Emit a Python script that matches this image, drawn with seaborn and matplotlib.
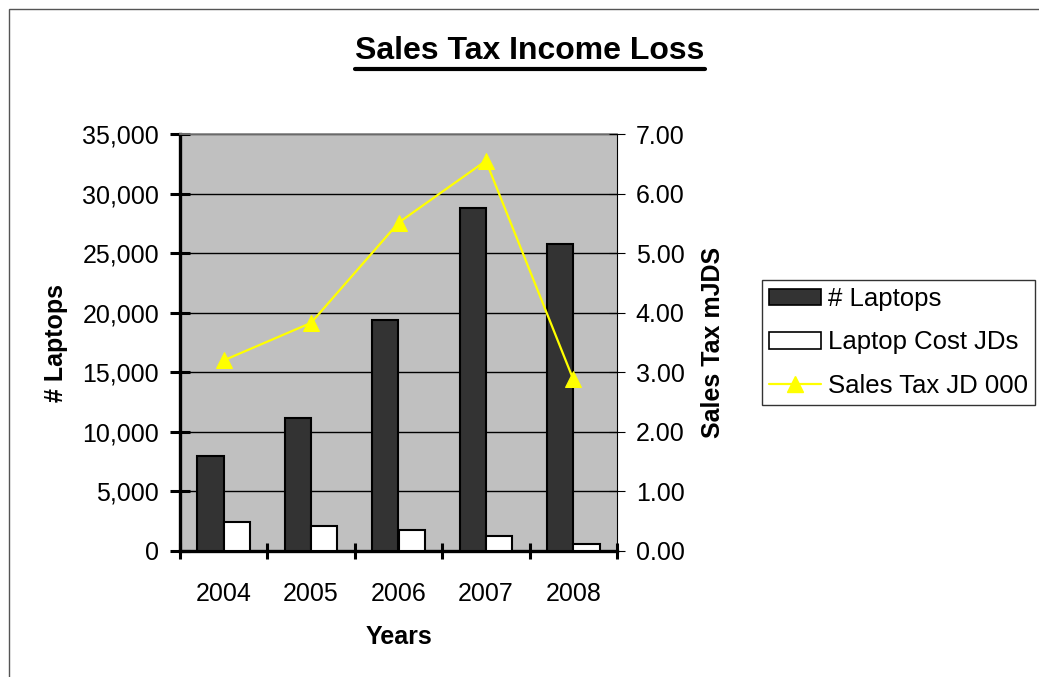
import numpy as np
import pandas as pd
import seaborn as sns
import matplotlib
matplotlib.use("Agg")
import matplotlib.pyplot as plt
from matplotlib.lines import Line2D
from matplotlib.patches import Rectangle, Patch
from matplotlib.ticker import FuncFormatter, MultipleLocator

# Data
years = ["2004", "2005", "2006", "2007", "2008"]
laptops = [8000, 11200, 19400, 28800, 25800]
laptop_cost = [2430, 2100, 1750, 1250, 600]
sales_tax = [3.20, 3.83, 5.51, 6.55, 2.88]

bar_series = ["# Laptops", "Laptop Cost JDs"]
line_series = "Sales Tax JD 000"

sns.set_theme(style="white")
plt.rcParams["font.family"] = ["Liberation Sans", "DejaVu Sans"]
plt.rcParams["text.color"] = "black"
plt.rcParams["axes.labelcolor"] = "black"
plt.rcParams["xtick.color"] = "black"
plt.rcParams["ytick.color"] = "black"

df = pd.DataFrame({
    "Year": years * 2,
    "Value": laptops + laptop_cost,
    "Series": [bar_series[0]] * len(years) + [bar_series[1]] * len(years),
})

fig = plt.figure(figsize=(10.39, 6.77), dpi=100)
fig.patch.set_facecolor("white")
ax = fig.add_axes([180 / 1039, 1 - 551 / 677, 437 / 1039, 417 / 677])
ax.set_facecolor("#C0C0C0")

sns.barplot(data=df, x="Year", y="Value", hue="Series", order=years,
            hue_order=bar_series, palette=["#333333", "#FFFFFF"],
            width=0.6, dodge=True, edgecolor="black", linewidth=1.5,
            saturation=1, errorbar=None, legend=False, ax=ax, zorder=3)

ax.set_xlim(-0.5, len(years) - 0.5)
ax.set_ylim(0, 35000)
ax.yaxis.set_major_locator(MultipleLocator(5000))
ax.yaxis.set_major_formatter(FuncFormatter(lambda v, p: f"{v:,.0f}"))
ax.grid(axis="y", color="black", linewidth=1.0, zorder=1)
ax.set_axisbelow(True)

# Category boundaries get the tick marks, labels sit in the middle
ax.set_xticks(np.arange(len(years)))
ax.set_xticklabels(years)
ax.set_xticks(np.arange(len(years) + 1) - 0.5, minor=True)
ax.tick_params(axis="x", which="major", length=0, pad=22, labelsize=18)
ax.tick_params(axis="x", which="minor", direction="inout", length=12,
               width=2.2, color="black", bottom=True)
ax.tick_params(axis="y", which="major", direction="inout", length=14,
               width=2.2, color="black", left=True, labelsize=18, pad=8)

for side in ["left", "bottom"]:
    ax.spines[side].set_color("black")
    ax.spines[side].set_linewidth(2.4)
ax.spines["top"].set_color("#808080")
ax.spines["top"].set_linewidth(1.2)
ax.spines["right"].set_color("black")
ax.spines["right"].set_linewidth(0.8)

ax.set_xlabel("Years", fontsize=18, fontweight="bold", labelpad=14)
ax.set_ylabel("# Laptops", fontsize=18, fontweight="bold", labelpad=10)

# Secondary axis for the sales tax line
ax2 = ax.twinx()
line_df = pd.DataFrame({"pos": np.arange(len(years)), "Tax": sales_tax})
sns.lineplot(data=line_df, x="pos", y="Tax", ax=ax2, color="#FFFF00",
             linewidth=1.6, marker="^", markersize=12,
             markeredgecolor="#FFFF00", markerfacecolor="#FFFF00", zorder=5)
ax2.set_ylim(0, 7)
ax2.yaxis.set_major_locator(MultipleLocator(1))
ax2.yaxis.set_major_formatter(FuncFormatter(lambda v, p: f"{v:.2f}"))
ax2.tick_params(axis="y", which="major", direction="inout", length=11,
                width=0.8, color="black", right=True, labelsize=18, pad=8)
ax2.set_ylabel("Sales Tax mJDS", fontsize=18, fontweight="bold", labelpad=12)
ax2.set_xlim(-0.5, len(years) - 0.5)
for s in ax2.spines.values():
    s.set_visible(False)

# Legend
handles = [
    Patch(facecolor="#333333", edgecolor="black", linewidth=1.2),
    Patch(facecolor="white", edgecolor="black", linewidth=1.2),
    Line2D([], [], color="#FFFF00", linewidth=1.6, marker="^",
           markersize=12, markerfacecolor="#FFFF00", markeredgecolor="#FFFF00"),
]
leg = fig.legend(handles, bar_series + [line_series],
                 loc="upper left", bbox_to_anchor=(762 / 1039, 1 - 280 / 677),
                 fontsize=18.5, frameon=True, fancybox=False, handlelength=2.0,
                 handleheight=0.6, handletextpad=0.3, borderpad=0.28,
                 labelspacing=0.75, borderaxespad=0.0)
leg.get_frame().set_edgecolor("black")
leg.get_frame().set_linewidth(1.0)

# Title with underline
title = fig.text(530 / 1039, 1 - 51 / 677, "Sales Tax Income Loss",
                 ha="center", va="center", fontsize=23, fontweight="bold")
fig.canvas.draw()
bb = title.get_window_extent()
fig.add_artist(Line2D([bb.x0 / 1039, bb.x1 / 1039],
                      [(bb.y0 - 3) / 677, (bb.y0 - 3) / 677],
                      transform=fig.transFigure, color="black", linewidth=3.0))

# Chart area frame
fig.add_artist(Rectangle((9 / 1039, -0.05), 1.2, 1 - 9 / 677 + 0.05,
                         transform=fig.transFigure, fill=False,
                         edgecolor="#555555", linewidth=1.0))

fig.savefig("out.png", dpi=100)
